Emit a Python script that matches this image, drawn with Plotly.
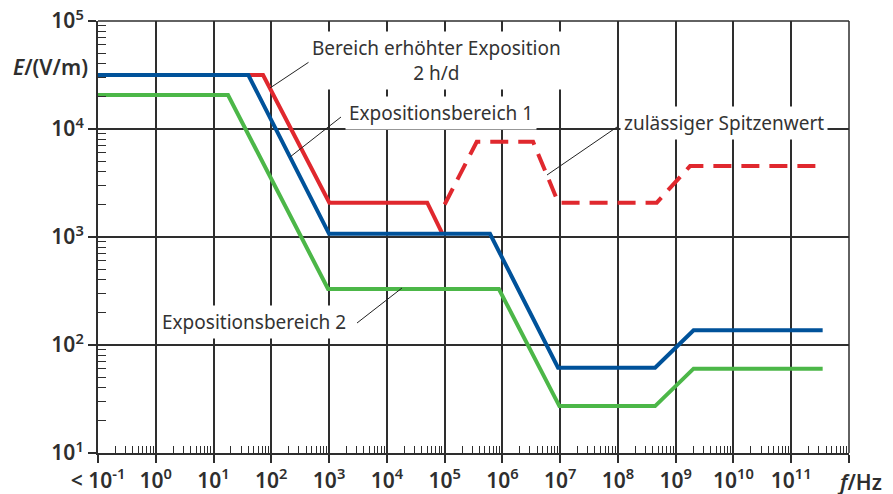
import numpy as np
import plotly.graph_objects as go

# ---------------- data ----------------
# Bereich erhöhter Exposition 2 h/d (solid red)
red_f = [0.1, 72, 1010, 5.0e4, 9.1e4]
red_E = [31600, 31600, 2080, 2080, 1080]
# zulässiger Spitzenwert (dashed red)
peak_f = [1.0e5, 3.6e5, 3.4e6, 9.3e6, 4.7e8, 1.77e9, 3.5e11]
peak_E = [2000, 7620, 7620, 2080, 2080, 4540, 4540]
# Expositionsbereich 1 (blue)
exp1_f = [0.1, 40, 1000, 6.1e5, 9.2e6, 4.4e8, 2.04e9, 3.5e11]
exp1_E = [31600, 31600, 1070, 1070, 61.7, 61.7, 137, 137]
# Expositionsbereich 2 (green)
exp2_f = [0.1, 17.8, 960, 8.7e5, 9.7e6, 4.4e8, 2.04e9, 3.5e11]
exp2_E = [20600, 20600, 330, 330, 27.2, 27.2, 60.4, 60.4]

x_exponents = list(range(-1, 13))
x_ticktext = ["&lt; 10<sup>-1</sup>"] + [f"10<sup>{e}</sup>" for e in range(0, 12)] + [""]
y_exponents = list(range(1, 6))
y_ticktext = [f"10<sup>{e}</sup>" for e in y_exponents]

# ---------------- styling ----------------
RED = "#e0282e"
BLUE = "#00529a"
GREEN = "#4cb748"
DARK = "#2e2e2e"
FONT = "Noto Sans, Open Sans, sans-serif"

x_major = [10.0 ** e for e in x_exponents]
x_five = [5 * 10.0 ** e for e in x_exponents[:-1]]
x_minor = [m * 10.0 ** e for e in x_exponents[:-1] for m in range(2, 10)]
y_major = [10.0 ** e for e in y_exponents]
y_five = [5 * 10.0 ** e for e in y_exponents[:-1]]
y_minor = [m * 10.0 ** e for e in y_exponents[:-1] for m in range(2, 10)]

fig = go.Figure()
fig.add_trace(go.Scatter(x=red_f, y=red_E, mode="lines",
                         line=dict(color=RED, width=4), showlegend=False))
fig.add_trace(go.Scatter(x=peak_f, y=peak_E, mode="lines",
                         line=dict(color=RED, width=4, dash="18px,10px"), showlegend=False))
fig.add_trace(go.Scatter(x=exp1_f, y=exp1_E, mode="lines",
                         line=dict(color=BLUE, width=4), showlegend=False))
fig.add_trace(go.Scatter(x=exp2_f, y=exp2_E, mode="lines",
                         line=dict(color=GREEN, width=4), showlegend=False))

# the page has an 8px body margin: figure starts at (8, 8) in the window
OFF = 8
W, H = 893 - OFF, 494 - OFF
PL, PR, PT, PB = 98, 849, 21, 453          # plot area in window pixels
L, T = PL - OFF, PT - OFF
R, B = 893 - PR, 494 - PB
pw, ph = PR - PL, PB - PT


def px(x):
    return (x - PL) / pw


def py(y):
    return (PB - y) / ph


tickfont = dict(family=FONT, size=21, color=DARK, weight=600)

fig.update_layout(
    template="none",
    width=W, height=H,
    margin=dict(l=L, r=R, t=T, b=B, pad=0, autoexpand=False),
    paper_bgcolor="white", plot_bgcolor="white",
    xaxis=dict(
        type="log", range=[-1, 12], automargin=False, ticklabeloverflow="allow",
        tickmode="array", tickvals=x_major, ticktext=x_ticktext,
        ticks="outside", ticklen=8, tickwidth=1.5, tickcolor=DARK,
        tickfont=tickfont,
        showgrid=True, gridcolor=DARK, gridwidth=1.5,
        showline=True, linecolor=DARK, linewidth=2,
        zeroline=False,
        minor=dict(tickmode="array", tickvals=x_minor, ticks="inside",
                   ticklen=7, tickwidth=1, tickcolor=DARK, showgrid=False),
    ),
    yaxis=dict(
        type="log", range=[1, 5], automargin=False, ticklabeloverflow="allow",
        tickmode="array", tickvals=y_major, ticktext=y_ticktext,
        ticks="outside", ticklen=8, tickwidth=1.5, tickcolor=DARK,
        tickfont=tickfont,
        showgrid=True, gridcolor=DARK, gridwidth=1.5,
        showline=True, linecolor=DARK, linewidth=2,
        zeroline=False,
        minor=dict(tickmode="array", tickvals=y_minor, ticks="inside",
                   ticklen=8, tickwidth=1, tickcolor=DARK, showgrid=False),
    ),
    xaxis2=dict(
        type="log", range=[-1, 12], overlaying="x", anchor="y2", automargin=False,
        tickmode="array", tickvals=x_five, showticklabels=False, ticks="",
        showgrid=True, gridcolor="#5a5a5a", gridwidth=1,
        showline=False, zeroline=False,
    ),
    yaxis2=dict(
        type="log", range=[1, 5], overlaying="y", anchor="x2", automargin=False,
        tickmode="array", tickvals=y_five, showticklabels=False, ticks="",
        showgrid=True, gridcolor=DARK, gridwidth=1,
        showline=False, zeroline=False,
    ),
)

# frame (top and right)
fig.add_shape(type="line", xref="paper", yref="paper", x0=0, x1=1, y0=1, y1=1,
              line=dict(color=DARK, width=1.5))
fig.add_shape(type="line", xref="paper", yref="paper", x0=1, x1=1, y0=0, y1=1,
              line=dict(color=DARK, width=1.5))

# leader lines (window pixel positions)
leaders = [((270, 88), (312, 60)),
           ((290, 157), (341, 117)),
           ((547, 175), (617, 127)),
           ((402, 288), (357, 323))]
for (x0, y0), (x1, y1) in leaders:
    fig.add_shape(type="line", xref="paper", yref="paper",
                  x0=px(x0), y0=py(y0), x1=px(x1), y1=py(y1),
                  line=dict(color="#222", width=1))

annfont = dict(family=FONT, size=19, color="#333")
labels = [
    ("Bereich erhöhter Exposition<br>2 h/d", 436, 60),
    ("Expositionsbereich 1", 441, 113),
    ("zulässiger Spitzenwert", 724, 123),
    ("Expositionsbereich 2", 254, 322),
]
for text, x, y in labels:
    fig.add_annotation(text=text, xref="paper", yref="paper", x=px(x), y=py(y),
                       xanchor="center", yanchor="middle", showarrow=False,
                       font=annfont, bgcolor="white", borderpad=3)

fig.add_annotation(text="<i>E</i>/(V/m)", xref="paper", yref="paper",
                   x=px(90), y=py(67), xanchor="right", yanchor="middle",
                   showarrow=False, font=dict(family=FONT, size=21, color=DARK, weight=600))
fig.add_annotation(text="<i>f</i>/Hz", xref="paper", yref="paper",
                   x=px(859), y=py(482), xanchor="center", yanchor="middle",
                   showarrow=False, font=dict(family=FONT, size=21, color=DARK, weight=600))

fig.write_html("out.html")
